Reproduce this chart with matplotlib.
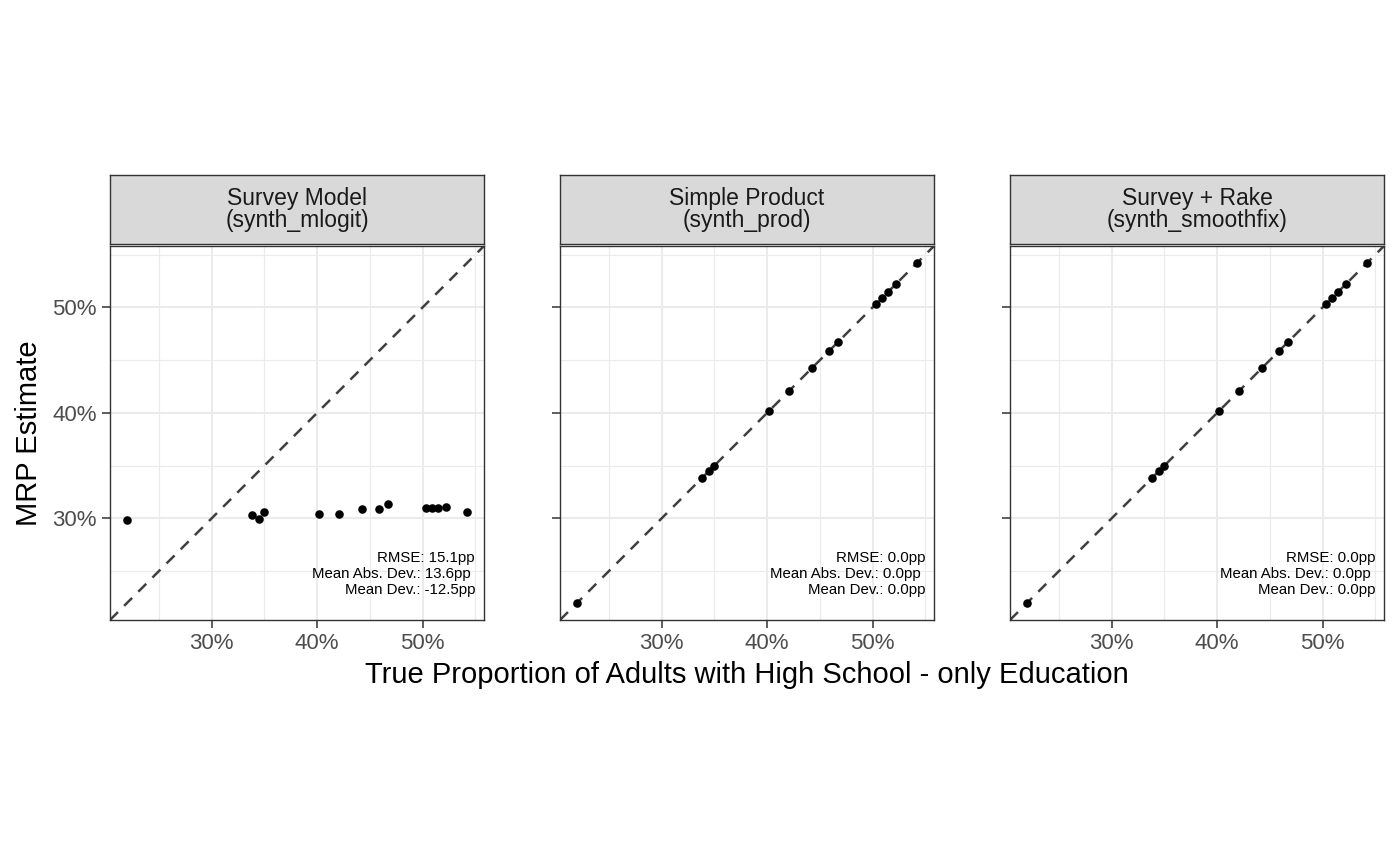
import numpy as np
import matplotlib
matplotlib.use('Agg')
import matplotlib.pyplot as plt
from matplotlib.ticker import FixedLocator, FuncFormatter

plt.rcParams['font.family'] = ['Liberation Sans', 'DejaVu Sans']

# true share of adults with high-school-only education (%), one per area
true_prop = [21.95, 33.78, 34.46, 34.98, 40.16, 42.08, 44.30,
             45.83, 46.72, 50.32, 50.87, 51.47, 52.27, 54.22]

# MRP estimates (%) per method, same order as true_prop
est_mlogit = [29.81, 30.28, 29.90, 30.57, 30.44, 30.38, 30.89,
              30.89, 31.30, 31.01, 31.01, 31.01, 31.08, 30.60]
est_prod = [21.95, 33.78, 34.46, 34.98, 40.16, 42.08, 44.30,
            45.83, 46.72, 50.32, 50.87, 51.47, 52.27, 54.22]
est_smoothfix = [21.95, 33.78, 34.46, 34.98, 40.16, 42.08, 44.30,
                 45.83, 46.72, 50.32, 50.87, 51.47, 52.27, 54.22]

panel_titles = ['Survey Model\n(synth_mlogit)',
                'Simple Product\n(synth_prod)',
                'Survey + Rake\n(synth_smoothfix)']
panel_stats = ['RMSE: 15.1pp\nMean Abs. Dev.: 13.6pp \nMean Dev.: -12.5pp',
               'RMSE: 0.0pp\nMean Abs. Dev.: 0.0pp \nMean Dev.: 0.0pp',
               'RMSE: 0.0pp\nMean Abs. Dev.: 0.0pp \nMean Dev.: 0.0pp']
estimates = [est_mlogit, est_prod, est_smoothfix]

major_ticks = [30, 40, 50]
minor_ticks = [25, 35, 45, 55]

# shared scales like facet_wrap, 5% expansion
allx = np.array(true_prop)
ally = np.concatenate([np.array(e) for e in estimates])
xpad = 0.05 * (allx.max() - allx.min())
ypad = 0.05 * (ally.max() - ally.min())
xlim = (allx.min() - xpad, allx.max() + xpad)
ylim = (ally.min() - ypad, ally.max() + ypad)

W, H = 1400, 865
fig = plt.figure(figsize=(W / 100, H / 100), dpi=100)

lefts = [110, 560, 1010]
pw = 374
ptop, pbot = 246, 620
stop, sbot = 175, 244

pct = FuncFormatter(lambda v, p: '%d%%' % v)

for i in range(3):
    ax = fig.add_axes([lefts[i] / W, (H - pbot) / H, pw / W, (pbot - ptop) / H])
    ax.set_xlim(xlim)
    ax.set_ylim(ylim)

    ax.xaxis.set_major_locator(FixedLocator(major_ticks))
    ax.xaxis.set_minor_locator(FixedLocator(minor_ticks))
    ax.yaxis.set_major_locator(FixedLocator(major_ticks))
    ax.yaxis.set_minor_locator(FixedLocator(minor_ticks))
    ax.xaxis.set_major_formatter(pct)
    ax.yaxis.set_major_formatter(pct)

    ax.grid(which='major', color='#EBEBEB', lw=1.5, zorder=0)
    ax.grid(which='minor', color='#EBEBEB', lw=0.8, zorder=0)
    ax.set_axisbelow(True)

    ax.tick_params(which='major', length=5.5, width=1.1, color='#333333',
                   labelcolor='#4D4D4D', labelsize=16, pad=4)
    ax.tick_params(which='minor', length=0)
    if i > 0:
        ax.tick_params(axis='y', labelleft=False)

    for s in ax.spines.values():
        s.set_color('#333333')
        s.set_linewidth(1.0)

    ax.axline((30, 30), slope=1, color='#404040', lw=1.8,
              linestyle=(0, (4.5, 3.5)), zorder=2)
    ax.scatter(true_prop, estimates[i], s=38, color='black',
               linewidths=0, zorder=3)

    ax.text(0.976, 0.123, panel_stats[i], transform=ax.transAxes,
            ha='right', va='center', fontsize=10.8, color='black',
            linespacing=1.15)

    # facet strip
    sx = fig.add_axes([lefts[i] / W, (H - sbot) / H, pw / W, (sbot - stop) / H])
    sx.set_facecolor('#D9D9D9')
    sx.set_xticks([])
    sx.set_yticks([])
    for s in sx.spines.values():
        s.set_color('#333333')
        s.set_linewidth(1.0)
    sx.text(0.5, 0.5, panel_titles[i], transform=sx.transAxes,
            ha='center', va='center', fontsize=16.5, color='#1A1A1A',
            linespacing=0.95)

fig.text((lefts[0] + lefts[2] + pw) / 2 / W, (H - 683) / H,
         'True Proportion of Adults with High School - only Education',
         ha='center', va='baseline', fontsize=21, color='black')
fig.text(29 / W, (H - (ptop + pbot) / 2) / H, 'MRP Estimate',
         rotation=90, ha='center', va='center', fontsize=21, color='black')

fig.savefig('out.png', dpi=100)
